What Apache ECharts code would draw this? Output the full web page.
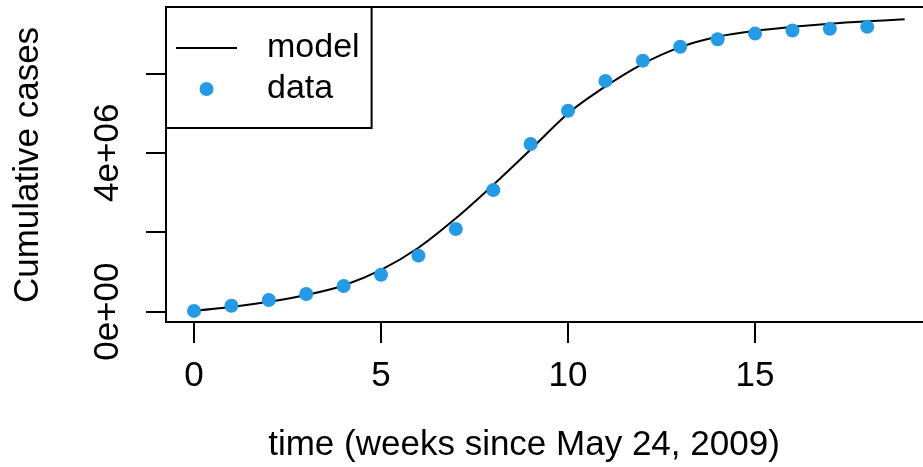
<!doctype html>
<html>
	<head>
		<meta charset="UTF-8">
		<title>Cumulative cases</title>
		<script src="https://cdn.jsdelivr.net/npm/echarts@6/dist/echarts.min.js"></script>
		<style>
			html, body { margin: 0; padding: 0; background: #fff; }
			#main { width: 923px; height: 467px; }
		</style>
	</head>
	<body>
		<div id="main"></div>
		<script>
			// 周数 (weeks since May 24, 2009)
			var weeks = [0, 1, 2, 3, 4, 5, 6, 7, 8, 9, 10, 11, 12, 13, 14, 15, 16, 17, 18];
			// observed cumulative cases
			var dataCases = [0.02e6, 0.15e6, 0.295e6, 0.445e6, 0.647e6, 0.93e6, 1.41e6, 2.08e6, 3.06e6, 4.22e6,
				5.06e6, 5.81e6, 6.32e6, 6.67e6, 6.86e6, 7.0e6, 7.08e6, 7.12e6, 7.17e6];
			// model curve
			var modelWeeks = [0, 1, 2, 3, 4, 5, 6, 7, 8, 9, 10, 11, 12, 13, 14, 15, 16, 17, 18, 19];
			var modelCases = [0.025e6, 0.12e6, 0.25e6, 0.42e6, 0.66e6, 1.05e6, 1.61e6, 2.35e6, 3.19e6, 4.08e6,
				4.99e6, 5.67e6, 6.24e6, 6.66e6, 6.92e6, 7.07e6, 7.17e6, 7.25e6, 7.31e6, 7.36e6];
			var xTicks = [0, 5, 10, 15];
			var yTicks = [0, 2e6, 4e6, 6e6];
			var yLabels = [0, 4e6];

			var font = "'Liberation Sans', Arial, sans-serif";
			var blue = '#259be6';
			var xMin = -0.749, xMax = 19.49;

			function sci(v) {
				if (v === 0) return '0e+00';
				var e = Math.floor(Math.log10(v));
				var m = Math.round(v / Math.pow(10, e));
				return m + 'e+' + (e < 10 ? '0' + e : e);
			}

			var myChart = echarts.init(document.getElementById('main'));
			var option = {
				backgroundColor: '#fff',
				animation: false,
				grid: {
					left: 166,
					top: 7,
					right: 0,
					bottom: 145,
					show: false
				},
				legend: {
					orient: 'vertical',
					left: 166,
					top: 7,
					padding: [24, 12, 22, 9],
					itemGap: 7,
					itemWidth: 61,
					itemHeight: 14,
					borderColor: '#000',
					borderWidth: 2,
					backgroundColor: '#fff',
					textStyle: {
						fontFamily: font,
						fontSize: 34,
						color: '#000',
						padding: [0, 0, 0, 25]
					},
					data: [
						{ name: 'model', itemStyle: { opacity: 0 } },
						{ name: 'data', icon: 'circle' }
					]
				},
				xAxis: [{
					type: 'value',
					min: xMin,
					max: xMax,
					splitLine: { show: false },
					axisLine: { show: true, onZero: false, lineStyle: { color: '#000', width: 2 } },
					axisTick: {
						show: true,
						length: 21,
						customValues: xTicks,
						lineStyle: { color: '#000', width: 2 }
					},
					axisLabel: {
						customValues: xTicks,
						margin: 37,
						fontFamily: font,
						fontSize: 35,
						color: '#000'
					}
				}, {
					// top edge of the box
					type: 'value',
					position: 'top',
					min: xMin,
					max: xMax,
					splitLine: { show: false },
					axisLine: { show: true, onZero: false, lineStyle: { color: '#000', width: 2 } },
					axisTick: { show: false },
					axisLabel: { show: false }
				}],
				yAxis: {
					type: 'value',
					min: -0.26e6,
					max: 7.67e6,
					splitLine: { show: false },
					axisLine: { show: true, onZero: false, lineStyle: { color: '#000', width: 2 } },
					axisTick: {
						show: true,
						length: 20,
						customValues: yTicks,
						lineStyle: { color: '#000', width: 2 }
					},
					axisLabel: {
						customValues: yLabels,
						rotate: 90,
						margin: 40,
						fontFamily: font,
						fontSize: 35,
						color: '#000',
						formatter: sci
					}
				},
				graphic: [
					{
						type: 'text',
						x: 524,
						y: 445,
						style: {
							text: 'time (weeks since May 24, 2009)',
							font: '35px ' + font,
							fill: '#000',
							align: 'center',
							verticalAlign: 'middle'
						}
					},
					{
						type: 'text',
						x: 28,
						y: 165,
						rotation: Math.PI / 2,
						style: {
							text: 'Cumulative cases',
							font: '35px ' + font,
							fill: '#000',
							align: 'center',
							verticalAlign: 'middle'
						}
					}
				],
				series: [
					{
						name: 'model',
						type: 'line',
						smooth: 0.3,
						symbol: 'none',
						lineStyle: { color: '#000', width: 2 },
						itemStyle: { color: '#000' },
						data: modelWeeks.map(function (w, i) { return [w, modelCases[i]]; }),
						z: 2
					},
					{
						name: 'data',
						type: 'scatter',
						symbol: 'circle',
						symbolSize: 14,
						itemStyle: { color: blue, opacity: 1 },
						data: weeks.map(function (w, i) { return [w, dataCases[i]]; }),
						z: 3
					}
				]
			};
			myChart.setOption(option);
		</script>
	</body>
</html>
